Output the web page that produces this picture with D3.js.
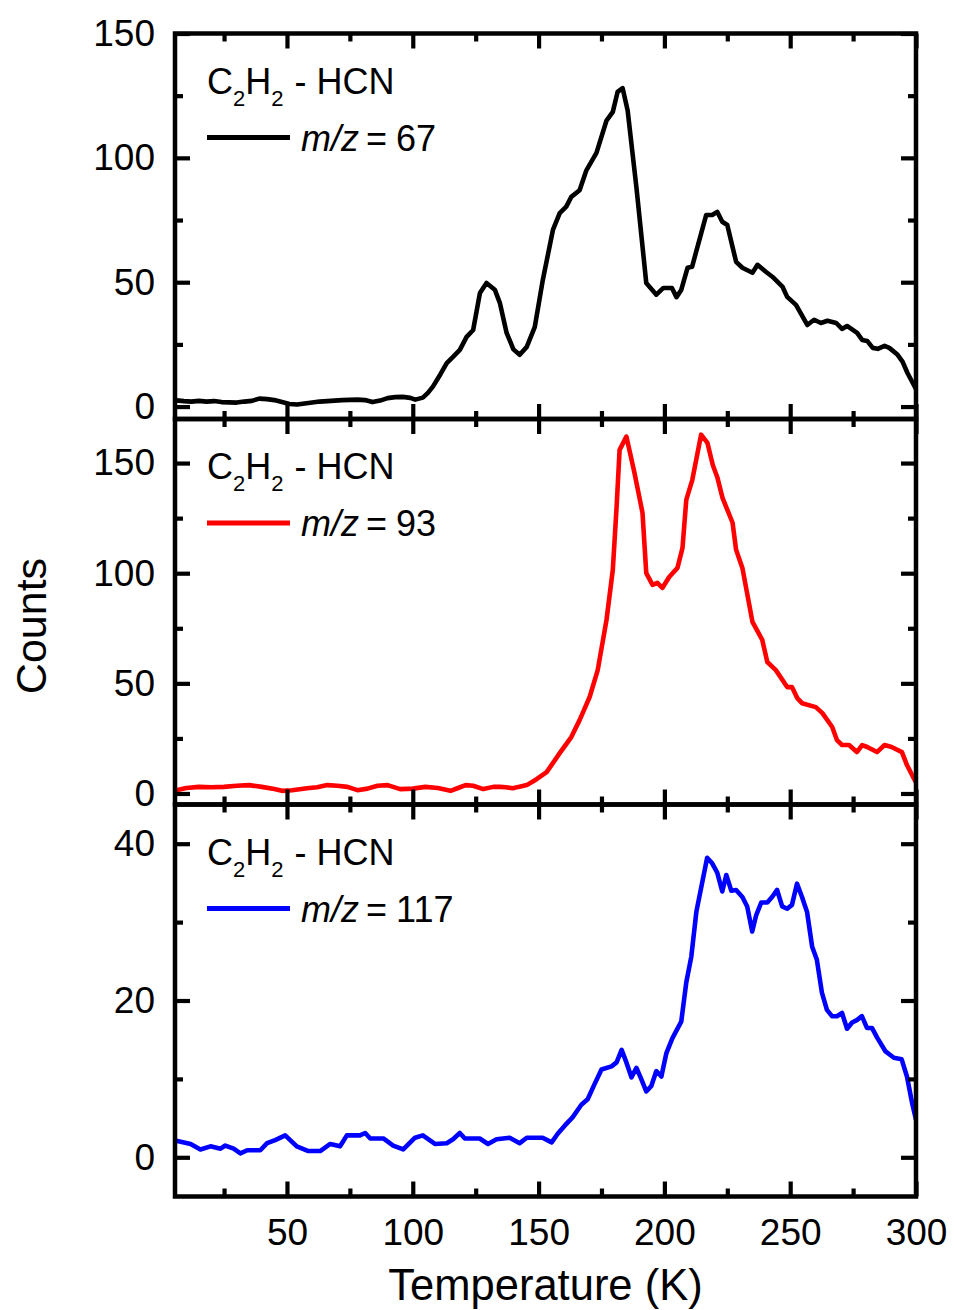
<!DOCTYPE html>
<html>
<head>
<meta charset="utf-8">
<script src="https://cdn.jsdelivr.net/npm/d3@7"></script>
<style>
  html, body { margin: 0; padding: 0; background: #fff; }
  svg { display: block; }
  text { font-family: "Liberation Sans", Arial, Helvetica, sans-serif; fill: #000; }
</style>
</head>
<body>
<svg id="chart" width="954" height="1310"></svg>
<script>
// ---------------- DATA ----------------
const panelTitle = ["C", "2", "H", "2", " - HCN"];
const massLabels = ["67", "93", "117"];
const seriesColors = ["#000000", "#ff0000", "#0000ff"];

const xMajorTicks = [50, 100, 150, 200, 250, 300];
const xMinorTicks = [25, 75, 125, 175, 225, 275];

const yMajorTicks67 = [0, 50, 100, 150];
const yMinorTicks67 = [25, 75, 125];
const yMajorTicks93 = [0, 50, 100, 150];
const yMinorTicks93 = [25, 75, 125];
const yMajorTicks117 = [0, 20, 40];
const yMinorTicks117 = [10, 30];

const yDomain67 = [-5, 150];
const yDomain93 = [-5, 170];
const yDomain117 = [-5, 45];

// m/z = 67 (black)
const temp67 = [6, 9, 12, 15, 18, 21, 24, 27, 30, 33, 36, 39, 42, 45, 48, 51, 54, 57, 60, 63, 66, 69, 72, 75, 78, 81, 84, 87, 90, 93, 96, 99, 101, 104, 106, 108, 111, 113.5, 116, 118.7, 121.4, 124, 126.7, 129.3, 132.6, 134.6, 137.3, 140, 142.5, 145.3, 148.5, 151.7, 155.7, 158.4, 161, 163, 166.3, 169, 173, 177, 179.5, 181.4, 183.4, 185.4, 188.9, 192.8, 196.8, 199.6, 203, 204.8, 206.7, 209.2, 211, 216.6, 219, 221, 223, 225, 228.5, 231, 235, 237, 240.3, 242.9, 247, 248.8, 252.3, 256.8, 259.5, 262.2, 264.8, 268.3, 270.6, 272.6, 276.6, 278.6, 280.6, 282.8, 284.8, 287.5, 289.4, 292.7, 294.7, 296.6, 299.5, 300];
const counts67 = [2.5, 2.2, 2.0, 2.3, 2.0, 2.2, 1.8, 1.7, 1.6, 2.0, 2.3, 3.2, 3.0, 2.6, 1.8, 1.0, 0.8, 1.2, 1.6, 2.0, 2.2, 2.4, 2.6, 2.7, 2.8, 2.6, 1.8, 2.4, 3.4, 3.8, 3.9, 3.5, 2.8, 3.6, 5.5, 8, 13, 17.5, 20, 22.8, 28, 30.8, 45.7, 49.7, 47, 41.7, 29.6, 23, 20.8, 24, 32, 51, 71, 77.8, 80.4, 84.3, 87, 95, 102, 115, 118.5, 126.5, 128, 119, 88, 49.7, 45, 47.7, 47.7, 44, 46.9, 55.8, 56.2, 77, 77, 78.3, 74.3, 73, 58.2, 55.8, 53.8, 57, 54.2, 52.2, 48.1, 44.1, 40.9, 32.8, 34.9, 33.6, 34.5, 33.6, 31.2, 32.4, 29.6, 26.8, 26.4, 23.6, 23.2, 24.4, 23.6, 20.8, 18, 13.5, 8, 7];

// m/z = 93 (red)
const temp93 = [6, 10, 15, 20, 25, 30, 35, 40, 45, 48, 52, 58, 62, 66, 70, 74, 78, 82, 86, 90, 95, 100, 105, 110, 115, 118, 121, 124, 128, 132, 134.6, 137, 139.8, 142, 145.3, 149.2, 153.2, 158.4, 163, 166.3, 170.3, 173.5, 177, 179.5, 181, 182.2, 184.9, 188.1, 191.3, 192.8, 195.3, 197.2, 199.2, 201.9, 205.2, 207.2, 208.7, 211.1, 214.6, 217.1, 219.2, 221.1, 223.1, 227.1, 228.5, 231, 235, 238.9, 240.9, 244.3, 248.8, 250.7, 252.8, 254.7, 260.2, 262.8, 266.7, 268.6, 270.6, 273.4, 276.5, 278.6, 280.6, 284.5, 287.5, 290.3, 294.4, 296.4, 299.1, 300];
const counts93 = [1.5, 2.5, 3, 2.8, 3, 3.5, 3.8, 3, 2, 1.2, 1.5, 2.4, 2.8, 3.8, 3.5, 3, 1.5, 2.2, 3.5, 3.8, 2, 2.2, 3, 2.5, 1.2, 2.5, 3.8, 3.5, 2, 3, 3, 2.8, 2.4, 3, 3.8, 6.5, 9.7, 18.3, 25.6, 33.3, 43.8, 56, 78.8, 101.5, 130, 156, 162, 145.6, 127.4, 100, 94.7, 95.6, 93.3, 98.3, 102.4, 111.5, 133.3, 142.4, 162.9, 159.2, 149.2, 143.3, 134.2, 122.9, 110.6, 102.4, 77.9, 69.7, 59.7, 56, 48.3, 48.3, 43.3, 41, 39.2, 36.5, 30.2, 24.2, 22, 22, 18.8, 22, 21.1, 18.8, 22, 21.1, 18.8, 12.9, 6.9, 5];

// m/z = 117 (blue)
const temp117 = [6, 11.7, 15.6, 19.6, 23.6, 25.5, 28.8, 31.5, 34.2, 39.4, 42.1, 45.3, 49.3, 53.9, 58.5, 63.2, 67.2, 71.1, 73.8, 79, 81.1, 83.1, 88.3, 92.2, 96.2, 100.9, 104, 108.8, 113.5, 116, 118.7, 120.7, 126.6, 129.9, 133.3, 138.5, 142.5, 145.3, 151.6, 155.2, 157.6, 160.3, 163.5, 167, 169.5, 172.2, 175, 179, 181, 183, 184.9, 186.9, 188.9, 190.9, 192.8, 194.8, 196.8, 198.8, 200.8, 203.2, 206.7, 208.7, 210.7, 212.7, 215, 217, 219, 221, 223, 224.6, 226.6, 228.5, 231, 232.9, 234.9, 236.5, 238.5, 240.9, 242.8, 244.8, 246.8, 248.8, 250.7, 252.7, 254.7, 256.7, 258.7, 260.6, 262.6, 264.6, 266.6, 268.6, 270.6, 272.6, 274.6, 276.5, 278.5, 280.5, 282.5, 284.5, 287.9, 291.2, 294.3, 296.4, 298.4, 300];
const counts117 = [2.1, 1.7, 1.0, 1.4, 1.1, 1.5, 1.1, 0.5, 0.9, 0.9, 1.8, 2.2, 2.8, 1.4, 0.8, 0.8, 1.7, 1.4, 2.8, 2.8, 3.1, 2.4, 2.4, 1.5, 1.0, 2.5, 2.8, 1.7, 1.8, 2.3, 3.1, 2.4, 2.4, 1.7, 2.3, 2.5, 1.8, 2.5, 2.5, 1.9, 3.0, 4, 5.1, 6.7, 7.4, 9.3, 11.2, 11.6, 12.1, 13.7, 12.1, 10.2, 11.4, 9.9, 8.4, 9.1, 11, 10.3, 13.3, 15.2, 17.3, 22.3, 25.6, 31.3, 35, 38.2, 37.5, 36.3, 33.9, 36, 34, 34.1, 33.2, 32, 28.8, 30.9, 32.5, 32.5, 33.2, 34.1, 32, 31.7, 32.2, 34.9, 33.2, 31.3, 26.9, 25.2, 21, 18.8, 18, 18, 18.4, 16.4, 17.2, 17.5, 18, 16.5, 16.5, 15.3, 13.5, 12.7, 12.5, 10.3, 7, 4.8];

// ---------------- LAYOUT ----------------
const svg = d3.select("#chart");
const left = 175, right = 916;
const panelEdges = [33.5, 419, 804.5, 1196.5];
const FONT = "Liberation Sans, Arial, Helvetica, sans-serif";

const x = d3.scaleLinear().domain([5.5, 300]).range([left, right]);

const panels = [
  { t: temp67, c: counts67, dom: yDomain67, maj: yMajorTicks67, min: yMinorTicks67 },
  { t: temp93, c: counts93, dom: yDomain93, maj: yMajorTicks93, min: yMinorTicks93 },
  { t: temp117, c: counts117, dom: yDomain117, maj: yMajorTicks117, min: yMinorTicks117 }
];

const defs = svg.append("defs");

panels.forEach((p, i) => {
  const top = panelEdges[i], bottom = panelEdges[i + 1];
  const y = d3.scaleLinear().domain(p.dom).range([bottom, top]);
  const g = svg.append("g");

  defs.append("clipPath").attr("id", "clip" + i)
    .append("rect").attr("x", left).attr("y", top)
    .attr("width", right - left).attr("height", bottom - top);

  // data line
  const pts = p.t.map((t, k) => [t, p.c[k]]);
  g.append("path")
    .datum(pts)
    .attr("clip-path", `url(#clip${i})`)
    .attr("fill", "none")
    .attr("stroke", seriesColors[i])
    .attr("stroke-width", 4.6)
    .attr("stroke-linejoin", "round")
    .attr("stroke-linecap", "butt")
    .attr("d", d3.line().x(d => x(d[0])).y(d => y(d[1])));

  // ticks (inward on all four sides)
  const styleAxis = (sel, showLabels) => {
    sel.select(".domain").remove();
    sel.selectAll(".tick line").attr("stroke", "#000").attr("stroke-width", 4.2);
    if (!showLabels) sel.selectAll(".tick text").remove();
    sel.selectAll(".tick text").attr("font-family", FONT).attr("font-size", 37).attr("fill", "#000");
  };
  const M = 15, m = 8;
  // bottom
  g.append("g").attr("transform", `translate(0,${bottom})`)
    .call(d3.axisBottom(x).tickValues(xMajorTicks).tickSize(-M).tickPadding(22).tickFormat(d3.format("d")))
    .call(s => styleAxis(s, i === 2));
  g.append("g").attr("transform", `translate(0,${bottom})`)
    .call(d3.axisBottom(x).tickValues(xMinorTicks).tickSize(-m))
    .call(s => styleAxis(s, false));
  // top
  g.append("g").attr("transform", `translate(0,${top})`)
    .call(d3.axisTop(x).tickValues(xMajorTicks).tickSize(-M))
    .call(s => styleAxis(s, false));
  g.append("g").attr("transform", `translate(0,${top})`)
    .call(d3.axisTop(x).tickValues(xMinorTicks).tickSize(-m))
    .call(s => styleAxis(s, false));
  // left
  g.append("g").attr("transform", `translate(${left},0)`)
    .call(d3.axisLeft(y).tickValues(p.maj).tickSize(-M).tickPadding(20).tickFormat(d3.format("d")))
    .call(s => styleAxis(s, true));
  g.append("g").attr("transform", `translate(${left},0)`)
    .call(d3.axisLeft(y).tickValues(p.min).tickSize(-m))
    .call(s => styleAxis(s, false));
  // right
  g.append("g").attr("transform", `translate(${right},0)`)
    .call(d3.axisRight(y).tickValues(p.maj).tickSize(-M))
    .call(s => styleAxis(s, false));
  g.append("g").attr("transform", `translate(${right},0)`)
    .call(d3.axisRight(y).tickValues(p.min).tickSize(-m))
    .call(s => styleAxis(s, false));

  // frame
  g.append("rect")
    .attr("x", left).attr("y", top)
    .attr("width", right - left).attr("height", bottom - top)
    .attr("fill", "none").attr("stroke", "#000").attr("stroke-width", 4.5);

  // legend title  C2H2 - HCN
  const title = g.append("text")
    .attr("x", 207).attr("y", top + 60)
    .attr("font-size", 36);
  title.append("tspan").text(panelTitle[0]);
  title.append("tspan").text(panelTitle[1]).attr("font-size", 22).attr("dy", 12);
  title.append("tspan").text(panelTitle[2]).attr("dy", -12);
  title.append("tspan").text(panelTitle[3]).attr("font-size", 22).attr("dy", 12);
  title.append("tspan").text(panelTitle[4]).attr("dy", -12).attr("dx", 1);

  // legend line + label
  g.append("line")
    .attr("x1", 207).attr("x2", 290)
    .attr("y1", top + 104).attr("y2", top + 104)
    .attr("stroke", seriesColors[i]).attr("stroke-width", 5);
  const lab = g.append("text")
    .attr("x", 301).attr("y", top + 117)
    .attr("font-size", 36);
  lab.append("tspan").attr("font-style", "italic").text("m/z");
  lab.append("tspan").attr("dx", 7).text("=");
  lab.append("tspan").attr("dx", 9).text(massLabels[i]);
});

// axis titles
svg.append("text")
  .attr("x", 545.5).attr("y", 1300)
  .attr("text-anchor", "middle")
  .attr("font-size", 43.5)
  .text("Temperature (K)");

svg.append("text")
  .attr("transform", "translate(46,626) rotate(-90)")
  .attr("text-anchor", "middle")
  .attr("font-size", 43)
  .text("Counts");
</script>
</body>
</html>
